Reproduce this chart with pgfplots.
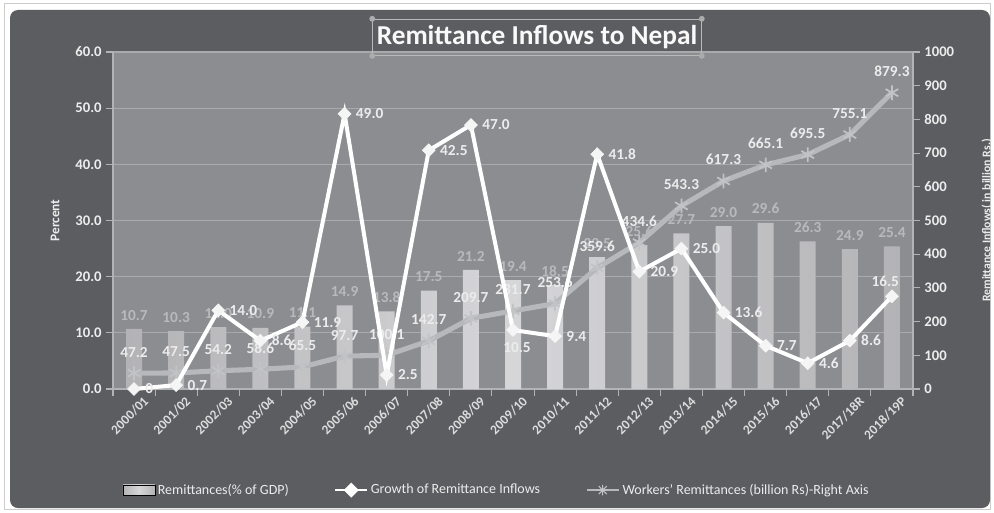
\documentclass[border=0pt]{standalone}
\usepackage{fontspec}
\setmainfont{Carlito}
\usepackage{pgfplots}
\usepackage{pgfplotstable}
\pgfplotsset{compat=1.18}

\definecolor{panel}{HTML}{5C5D61}
\definecolor{plotbg}{HTML}{8C8D91}
\definecolor{gridc}{HTML}{A9AAAE}
\definecolor{axc}{HTML}{B2B3B6}
\definecolor{barmid}{HTML}{D6D6D8}
\definecolor{baredge}{HTML}{B3B3B6}
\definecolor{barlab}{HTML}{B8B9BC}
\definecolor{wline}{HTML}{B7B8BB}
\definecolor{txt}{HTML}{ECECEC}

\pgfplotstableread{
x lab gdp growth glab workers
0 2000/01 10.7 0 0 47.2
1 2001/02 10.3 0.7 0.7 47.5
2 2002/03 11.0 14.0 14.0 54.2
3 2003/04 10.9 8.6 8.6 58.6
4 2004/05 11.1 11.9 11.9 65.5
5 2005/06 14.9 49.0 49.0 97.7
6 2006/07 13.8 2.5 2.5 100.1
7 2007/08 17.5 42.5 42.5 142.7
8 2008/09 21.2 47.0 47.0 209.7
9 2009/10 19.4 10.5 10.5 231.7
10 2010/11 18.5 9.4 9.4 253.6
11 2011/12 23.5 41.8 41.8 359.6
12 2012/13 25.6 20.9 20.9 434.6
13 2013/14 27.7 25.0 25.0 543.3
14 2014/15 29.0 13.6 13.6 617.3
15 2015/16 29.6 7.7 7.7 665.1
16 2016/17 26.3 4.6 4.6 695.5
17 2017/18R 24.9 8.6 8.6 755.1
18 2018/19P 25.4 16.5 16.5 879.3
}\data

\pgfplotsset{
  base/.style={
    at={(84.75pt,92.25pt)}, anchor=south west,
    width=600pt, height=252.75pt, scale only axis,
    xmin=-0.5, xmax=18.5, clip=false,
    axis line style={axc, line width=0.8pt},
    every tick/.style={axc, line width=0.8pt},
    tick label style={text=txt, font=\fontsize{11}{12}\selectfont\bfseries},
    /pgf/number format/assume math mode=true,
    /pgf/number format/1000 sep={},
    every axis y label/.style={rotate=90, anchor=center, text=txt,
      font=\fontsize{10}{11}\selectfont\bfseries},
  },
  glabel/.style={forget plot, draw=none, mark=none,
    point meta=explicit symbolic, nodes near coords,
    nodes near coords style={text=txt, font=\fontsize{11.5}{12}\selectfont\bfseries},
  },
}

\begin{document}
\begin{tikzpicture}
\useasboundingbox (0,0) rectangle (745.5pt,384pt);
\fill[white] (0,0) rectangle (745.5pt,384pt);
\draw[gray!40, line width=0.6pt] (3pt,2pt) rectangle (743pt,381.5pt);
\fill[panel, rounded corners=6pt] (7.5pt,3pt) rectangle (742.5pt,376.5pt);

% left axis: bars, grid, background
\begin{axis}[base,
  axis background/.style={fill=plotbg},
  ymin=0, ymax=60, ytick={0,10,...,60},
  yticklabel style={/pgf/number format/.cd, fixed, fixed zerofill, precision=1},
  ymajorgrids, grid style={gridc, line width=0.8pt},
  tick align=outside, major tick length=5pt,
  axis y line*=left, axis x line*=bottom,
  xtick={0,...,18},
  xticklabels from table={\data}{lab},
  major x tick style={draw=none},
  minor xtick={-0.5,0.5,...,18.5},
  minor tick length=5pt,
  xticklabel style={rotate=45, anchor=north east, xshift=8pt, yshift=-1pt,
    text=txt!85!gray, font=\fontsize{10}{11}\selectfont\bfseries},
  ylabel={Percent},
  ylabel style={at={(axis description cs:-0.0725,0.5)}},
]
\addplot[ybar, bar width=12pt, bar shift=0pt, draw=none,
  left color=baredge, right color=baredge, middle color=barmid,
  nodes near coords,
  nodes near coords style={text=barlab, anchor=south, yshift=3pt,
    font=\fontsize{11.5}{12}\selectfont\bfseries,
    /pgf/number format/.cd, fixed, fixed zerofill, precision=1,
    assume math mode=true},
] table[x=x, y=gdp] {\data};
\end{axis}

% right axis: workers' remittances
\begin{axis}[base,
  ymin=0, ymax=1000, ytick={0,100,...,1000},
  axis y line*=right, axis x line=none,
  tick align=outside, major tick length=5pt,
  ylabel={Remittance Inflows( in billion Rs.)},
  ylabel style={at={(axis description cs:1.0925,0.5)},
    font=\fontsize{8.8}{10}\selectfont\bfseries},
]
\addplot[wline, line width=3.8pt, mark=asterisk, mark size=5.5pt,
  mark options={line width=1.3pt, color=wline!85!white},
  nodes near coords,
  nodes near coords style={text=txt, anchor=south, yshift=8pt,
    font=\fontsize{11.5}{12}\selectfont\bfseries,
    /pgf/number format/.cd, fixed, fixed zerofill, precision=1,
    assume math mode=true},
] table[x=x, y=workers] {\data};
\end{axis}

% left axis again: growth line on top, and the legend
\begin{axis}[base,
  ymin=0, ymax=60, hide axis,
  legend columns=3,
  legend style={at={(0.48,-0.30)}, anchor=center, draw=none, fill=none,
    text=txt, font=\fontsize{10.5}{11}\selectfont,
    /tikz/every even column/.append style={column sep=32pt}},
]
\addlegendimage{legend image code/.code={
  \fill[left color=baredge, right color=baredge, middle color=barmid]
    (0pt,-4pt) rectangle (24pt,4pt);}}
\addlegendentry{Remittances(\% of GDP)}
\addplot[white, line width=3pt, mark=square*, mark size=3.4pt,
  mark options={rotate=45, fill=white!92!gray, draw=white!92!gray, line width=0.5pt},
  legend image code/.code={
    \draw[white, line width=1.5pt] (0pt,0pt) -- (24pt,0pt);
    \fill[white] (12pt,3.5pt) -- (15.5pt,0pt) -- (12pt,-3.5pt) -- (8.5pt,0pt) -- cycle;},
] table[x=x, y=growth] {\data};
\addlegendentry{Growth of Remittance Inflows}
\addlegendimage{legend image code/.code={
  \draw[wline, line width=1.8pt] (0pt,0pt) -- (24pt,0pt);
  \draw[wline!85!white, line width=0.8pt] (12pt,0pt) +(-4pt,0pt) -- +(4pt,0pt)
    +(0pt,-4pt) -- +(0pt,4pt) +(-3pt,-3pt) -- +(3pt,3pt) +(-3pt,3pt) -- +(3pt,-3pt);}}
\addlegendentry{Workers' Remittances (billion Rs)-Right Axis}
% labels of the growth line: right of the marker, except 2009/10 (below) and 2018/19P (above)
\addplot[glabel, x filter/.expression={(x==9 || x==18) ? nan : x},
  nodes near coords style={anchor=west, xshift=5pt}]
  table[x=x, y=growth, meta=glab] {\data};
\addplot[glabel, x filter/.expression={x==9 ? x : nan},
  nodes near coords style={anchor=north, xshift=3pt, yshift=-6pt}]
  table[x=x, y=growth, meta=glab] {\data};
\addplot[glabel, x filter/.expression={x==18 ? x : nan},
  nodes near coords style={anchor=south, xshift=-5pt, yshift=4pt}]
  table[x=x, y=growth, meta=glab] {\data};
\end{axis}

% title
\node[draw=gray!55, line width=0.8pt, text=white!95!gray, inner xsep=3pt,
  minimum width=245pt, minimum height=27pt,
  font=\fontsize{20.5}{22}\selectfont\bfseries] (t) at (402.75pt,356pt)
  {Remittance Inflows to Nepal};
\foreach \c in {north west, north east, south west, south east}
  \fill[gray!65] (t.\c) circle (2.2pt);
\end{tikzpicture}
\end{document}
